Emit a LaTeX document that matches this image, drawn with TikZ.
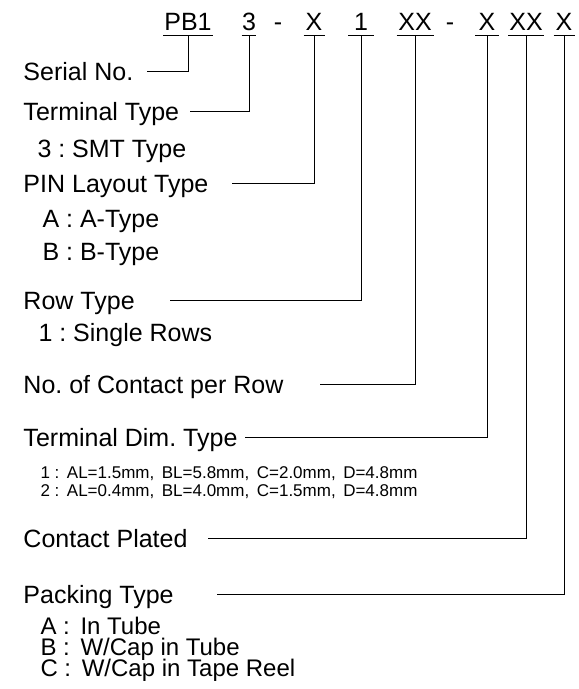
\documentclass[tikz,border=0pt]{standalone}
\usepackage{fontspec}
\setmainfont{Liberation Sans}
\frenchspacing
\begin{document}
\begin{tikzpicture}[x=0.5pt,y=-0.5pt,line width=0.5pt,
	code/.style={inner xsep=0pt,inner ysep=2pt,text height=9pt,text depth=0pt,font=\fontsize{12.5}{15}\selectfont},
	item/.style={anchor=west,inner sep=0pt,text height=9pt,text depth=0pt,font=\fontsize{12.5}{15}\selectfont},
	pick/.style={item,text height=8.5pt,font=\fontsize{12}{14}\selectfont},
	note/.style={anchor=west,inner sep=0pt,text height=6pt,text depth=0pt,font=\fontsize{8.5}{10}\selectfont}]
	\useasboundingbox (0,0) rectangle (578,689);
	% part number
	\node[code,minimum width=24.5pt] (pb) at (188,22) {PB1};
	\node[code,minimum width=6.5pt] (term) at (249,22) {3};
	\node[code] (dasha) at (278,22) {-};
	\node[code,minimum width=10pt] (pin) at (314,22) {X};
	\node[code,minimum width=12.5pt] (row) at (361,22) {1};
	\node[code,minimum width=18pt] (cont) at (415,22) {XX};
	\node[code] (dashb) at (450,22) {-};
	\node[code,minimum width=11.5pt] (dim) at (487,22) {X};
	\node[code,minimum width=17.5pt] (plat) at (526,22) {XX};
	\node[code,minimum width=10pt] (pack) at (564,22) {X};
	\foreach \n in {pb,term,pin,row,cont,dim,plat,pack}
		\draw (\n.south west) -- (\n.south east);
	% legend
	\node[item] (serial) at (23,72) {Serial No.};
	\node[item] (termtype) at (23,112) {Terminal Type};
	\node[item] (smt) at (37,149) {3 : SMT Type};
	\node[item] (pinlay) at (23,184) {PIN Layout Type};
	\node[item] (atype) at (42,219) {A : A-Type};
	\node[item] (btype) at (42,252) {B : B-Type};
	\node[item] (rowtype) at (23,300) {Row Type};
	\node[item] (single) at (38,332) {1 : Single Rows};
	\node[item] (contact) at (23,384) {No. of Contact per Row};
	\node[item] (dimtype) at (23,437) {Terminal Dim. Type};
	\node[note] (dima) at (40,472) {1 : \,AL=1.5mm, \,BL=5.8mm, \,C=2.0mm, \,D=4.8mm};
	\node[note] (dimb) at (40,490) {2 : \,AL=0.4mm, \,BL=4.0mm, \,C=1.5mm, \,D=4.8mm};
	\node[item] (plated) at (23,538) {Contact Plated};
	\node[item] (packing) at (23,594) {Packing Type};
	\node[pick] (tube) at (40,626) {A : \,In Tube};
	\node[pick] (captube) at (40,647) {B : \,W/Cap in Tube};
	\node[pick] (capreel) at (40,668) {C : \,W/Cap in Tape Reel};
	% leaders
	\draw (pb.south) |- (147,0 |- serial.east);
	\draw (term.south) |- (190,0 |- termtype.east);
	\draw (pin.south) |- (232,0 |- pinlay.east);
	\draw (row.south) |- (170,0 |- rowtype.east);
	\draw (cont.south) |- (320,0 |- contact.east);
	\draw (dim.south) |- (245,0 |- dimtype.east);
	\draw (plat.south) |- (208,0 |- plated.east);
	\draw (pack.south) |- (217,0 |- packing.east);
\end{tikzpicture}
\end{document}
